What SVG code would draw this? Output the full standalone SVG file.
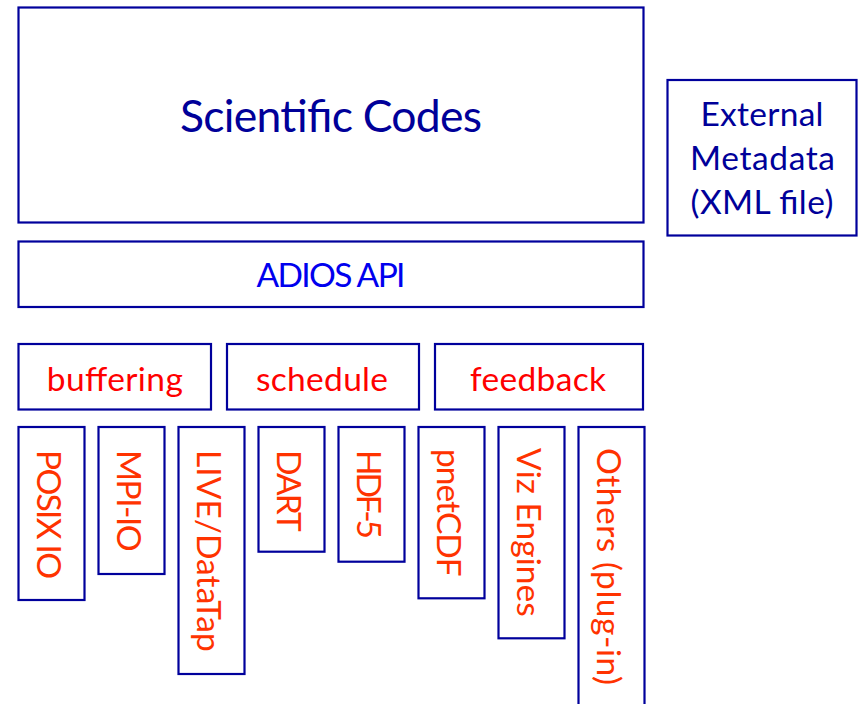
<svg xmlns="http://www.w3.org/2000/svg" width="858" height="704" viewBox="0 0 858 704">
  <style>
    .box { fill: #ffffff; stroke: #00009C; stroke-width: 2.2; }
    text { font-family: Lato, "Open Sans", "Liberation Sans", sans-serif; }
    .navy { fill: #000099; font-size: 33.5px; text-anchor: middle; }
    .blue { fill: #0000EE; }
    .red { fill: #FF0000; font-size: 33.5px; text-anchor: middle; }
    .vert { fill: #FF3300; font-size: 33.5px; text-anchor: start; }
  </style>
  <rect width="858" height="704" fill="#ffffff"/>

  <g id="scientific-codes">
    <rect class="box" x="18.5" y="7.5" width="625" height="215"/>
    <text class="navy" x="331" y="131.5" style="font-size:44.5px" textLength="302">Scientific Codes</text>
  </g>

  <g id="external-metadata">
    <rect class="box" x="667.5" y="80" width="189" height="155.5"/>
    <text class="navy" x="762" y="126" textLength="123">External</text>
    <text class="navy" x="762.5" y="170" textLength="145">Metadata</text>
    <text class="navy" x="762" y="214" textLength="143">(XML file)</text>
  </g>

  <g id="adios-api">
    <rect class="box" x="18.5" y="241.5" width="625" height="65.5"/>
    <text class="blue" x="331" y="287.3" font-size="33.5" text-anchor="middle" textLength="149">ADIOS API</text>
  </g>

  <g id="buffering">
    <rect class="box" x="18.5" y="344" width="192.5" height="65.5"/>
    <text class="red" x="114.8" y="390.7" textLength="136">buffering</text>
  </g>
  <g id="schedule">
    <rect class="box" x="227" y="344" width="192" height="65.5"/>
    <text class="red" x="322" y="390.7" textLength="132">schedule</text>
  </g>
  <g id="feedback">
    <rect class="box" x="435" y="344" width="208" height="65.5"/>
    <text class="red" x="538" y="390.7" textLength="136">feedback</text>
  </g>

  <g id="posix-io">
    <rect class="box" x="18.5" y="427" width="66" height="173"/>
    <text class="vert" transform="translate(37.2,450) rotate(90)" textLength="129">POSIX IO</text>
  </g>
  <g id="mpi-io">
    <rect class="box" x="98.5" y="427" width="66" height="147"/>
    <text class="vert" transform="translate(117.2,450) rotate(90)" textLength="101.7">MPI-IO</text>
  </g>
  <g id="live-datatap">
    <rect class="box" x="178.5" y="427" width="66" height="247"/>
    <text class="vert" transform="translate(197.2,450) rotate(90)" textLength="201.7">LIVE/DataTap</text>
  </g>
  <g id="dart">
    <rect class="box" x="258.5" y="427" width="66" height="124.7"/>
    <text class="vert" transform="translate(277.2,450) rotate(90)" textLength="81.7">DART</text>
  </g>
  <g id="hdf-5">
    <rect class="box" x="338.5" y="427" width="66" height="134.7"/>
    <text class="vert" transform="translate(357.2,450) rotate(90)" textLength="89">HDF-5</text>
  </g>
  <g id="pnetcdf">
    <rect class="box" x="418.5" y="427" width="66" height="171.3"/>
    <text class="vert" transform="translate(437.2,449) rotate(90)" textLength="127.7">pnetCDF</text>
  </g>
  <g id="viz-engines">
    <rect class="box" x="498.5" y="427" width="66" height="211.3"/>
    <text class="vert" transform="translate(517.2,448) rotate(90)" textLength="168.7">Viz Engines</text>
  </g>
  <g id="others-plug-in">
    <rect class="box" x="578.5" y="427" width="66" height="290"/>
    <text class="vert" transform="translate(597.2,448) rotate(90)" textLength="237">Others (plug-in)</text>
  </g>

  <g id="connectors"/>
</svg>
